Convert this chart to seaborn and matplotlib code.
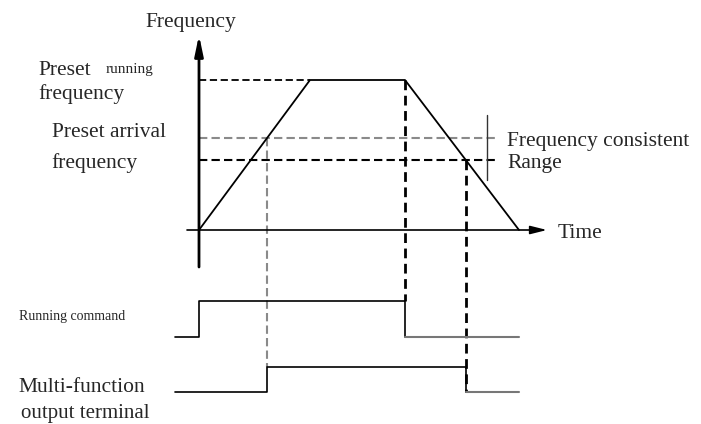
import matplotlib
matplotlib.use("Agg")
import matplotlib.pyplot as plt
import seaborn as sns
import numpy as np

# frequency profile (time, frequency) in drawing units
ramp_time = [0, 111, 206, 320]
ramp_freq = [0, 150, 150, 0]
preset_running = 150
arrival_upper = 92
arrival_lower = 70
range_mark = [50, 115]

# switching signals (0 = low, 1 = high)
cmd_time = [-24, 0, 0, 206, 206]
cmd_level = [0, 0, 1, 1, 0]

t_on = np.interp(arrival_upper, ramp_freq[:2], ramp_time[:2])
t_off = np.interp(arrival_lower, ramp_freq[:1:-1], ramp_time[:1:-1])
mf_time = [-24, t_on, t_on, t_off, t_off]
mf_level = [0, 0, 1, 1, 0]
t_end = 320

sns.set_theme(style="white")
plt.rcParams['font.family'] = ['Liberation Serif', 'DejaVu Serif']

fig = plt.figure(figsize=(7.01, 4.24), dpi=100)
ax = fig.add_axes([0, 0, 1, 1])
ax.set_xlim(-199, 502)
ax.set_ylim(-194, 230)
ax.axis("off")

# lanes for the two signals
cmd_base, cmd_height = -107, 36
mf_base, mf_height = -162, 25
cmd_y = [cmd_base + cmd_height * v for v in cmd_level]
mf_y = [mf_base + mf_height * v for v in mf_level]

# axes with arrows
ax.annotate("", xy=(0, 195), xytext=(0, -37),
            arrowprops=dict(arrowstyle="-|>,head_length=1.2,head_width=0.25",
                            lw=2.0, color="black", mutation_scale=10, shrinkA=0, shrinkB=0))
ax.annotate("", xy=(348, 0), xytext=(-12, 0),
            arrowprops=dict(arrowstyle="-|>,head_length=1.0,head_width=0.25",
                            lw=1.2, color="black", mutation_scale=10, shrinkA=0, shrinkB=0))

# reference levels
ax.plot([0, ramp_time[1]], [preset_running, preset_running], color="black", lw=1.3, ls=(0, (4, 2)))
ax.plot([0, 298], [arrival_upper, arrival_upper], color="#8a8a8a", lw=1.5, ls=(0, (4, 2)))
ax.plot([0, 298], [arrival_lower, arrival_lower], color="black", lw=1.5, ls=(0, (4, 2)))
ax.plot([288, 288], range_mark, color="#333333", lw=1.0)

# vertical guides
ax.plot([t_on, t_on], [arrival_upper, mf_base + mf_height], color="#8a8a8a", lw=1.5, ls=(0, (4, 2)))
ax.plot([ramp_time[2], ramp_time[2]], [preset_running, cmd_base + cmd_height],
        color="black", lw=2.0, ls=(0, (3.5, 2)))
ax.plot([t_off, t_off], [arrival_lower, mf_base], color="black", lw=2.0, ls=(0, (3.5, 2)))

# frequency curve and signals
sns.lineplot(x=ramp_time, y=ramp_freq, estimator=None, sort=False, color="black", lw=1.3, ax=ax)
sns.lineplot(x=cmd_time, y=cmd_y, estimator=None, sort=False, color="black", lw=1.2, ax=ax)
sns.lineplot(x=mf_time, y=mf_y, estimator=None, sort=False, color="black", lw=1.2, ax=ax)
# low tails after switching off
ax.plot([cmd_time[-1], t_end], [cmd_y[-1], cmd_y[-1]], color="#777777", lw=1.5)
ax.plot([mf_time[-1], t_end], [mf_y[-1], mf_y[-1]], color="#777777", lw=1.5)

# texts (x in drawing units, y at baseline)
fs = 15.5
ax.text(-54, 203, "Frequency", fontsize=fs, va="baseline")
ax.text(-161, 155, "Preset", fontsize=fs, va="baseline")
ax.text(-93, 157, "running", fontsize=11, va="baseline")
ax.text(-161, 131, "frequency", fontsize=fs, va="baseline")
ax.text(-147, 93, "Preset arrival", fontsize=fs, va="baseline")
ax.text(-148, 62, "frequency", fontsize=fs, va="baseline")
ax.text(308, 84, "Frequency consistent", fontsize=fs, va="baseline")
ax.text(308, 62, "Range", fontsize=fs, va="baseline")
ax.text(359, -8, "Time", fontsize=fs, va="baseline")
ax.text(-180, -90, "Running command", fontsize=10, va="baseline")
ax.text(-181, -162, "Multi-function", fontsize=fs, va="baseline")
ax.text(-178, -188, "output terminal", fontsize=15, va="baseline")

fig.savefig("out.png", dpi=100)
